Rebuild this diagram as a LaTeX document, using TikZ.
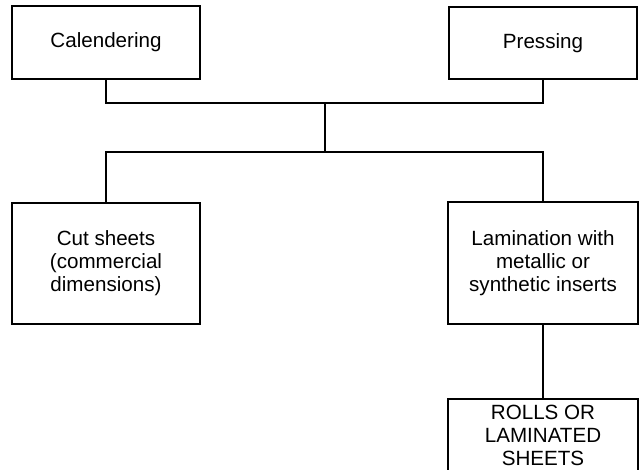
\documentclass[tikz,border=0pt]{standalone}
\usepackage{fontspec}
\setmainfont{Liberation Sans}
\usepackage{tikz}
\usetikzlibrary{positioning, calc}

\begin{document}
\begin{tikzpicture}[x=1pt, y=1pt,
    stage/.style={draw, line width=1.6pt, minimum width=188pt, align=center, inner sep=0pt,
        font=\fontsize{20.6}{23}\selectfont},
    link/.style={line width=1.6pt}]
\useasboundingbox (0,0) rectangle (639,470);
% upper row
\node[stage, minimum height=73pt] (cal) at (106,427.5) {Calendering};
\node[stage, minimum height=72pt] (press) at (543,427) {Pressing};
% lower row
\node[stage, minimum height=121pt] (cut) at (106,206.5) {Cut sheets\\(commercial\\dimensions)};
\node[stage, minimum height=122pt, minimum width=190pt] (lam) at (543,207) {Lamination with\\metallic or\\synthetic inserts};
\node[stage, minimum height=72pt, minimum width=190pt] (rolls) at (543,35) {ROLLS OR\\LAMINATED\\SHEETS};
% joins
\coordinate (joinA) at (325,367);
\coordinate (joinB) at (325,318);
\draw[link] (cal.south) |- (joinA) -| (press.south);
\draw[link] (joinA) -- (joinB);
\draw[link] (cut.north) |- (joinB) -| (lam.north);
\draw[link] (lam) -- (rolls);
\end{tikzpicture}
\end{document}
